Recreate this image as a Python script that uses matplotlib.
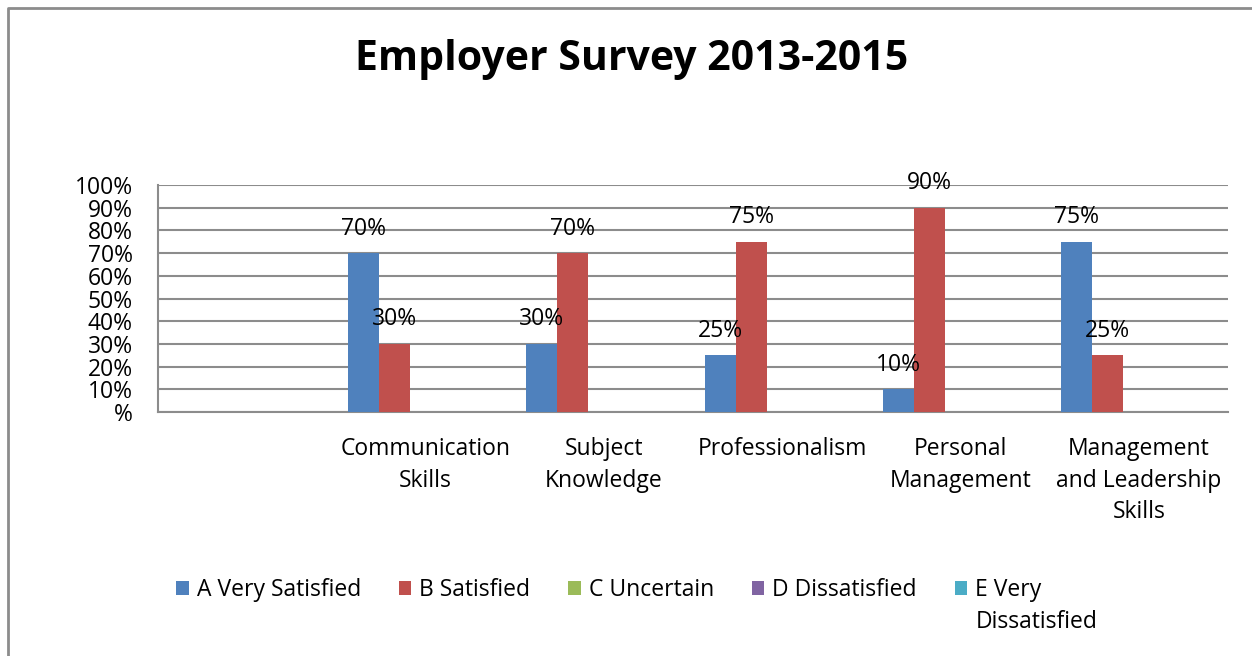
import matplotlib.pyplot as plt
from matplotlib.lines import Line2D
import numpy as np

# Survey data (percent)
categories = ["", "Communication\nSkills", "Subject\nKnowledge", "Professionalism",
              "Personal\nManagement", "Management\nand Leadership\nSkills"]
very_satisfied = [0, 70, 30, 25, 10, 75]
satisfied = [0, 30, 70, 75, 90, 25]
uncertain = [0, 0, 0, 0, 0, 0]
dissatisfied = [0, 0, 0, 0, 0, 0]
very_dissatisfied = [0, 0, 0, 0, 0, 0]

series_names = ["A Very Satisfied", "B Satisfied", "C Uncertain", "D Dissatisfied",
                "E Very Dissatisfied"]
colors = ["#4F81BD", "#C0504D", "#9BBB59", "#8064A2", "#4BACC6"]
y_ticks = [0, 10, 20, 30, 40, 50, 60, 70, 80, 90, 100]
y_ticklabels = ["%"] + [f"{v}%" for v in y_ticks[1:]]

plt.rcParams['font.family'] = ['Open Sans', 'DejaVu Sans']
FS = 16.5

W, H = 1252, 656
fig = plt.figure(figsize=(W / 100, H / 100), dpi=100)
ax = fig.add_axes([158 / W, 1 - 412 / H, (1228 - 158) / W, (412 - 185) / H])

x = np.arange(len(categories))
bw = 0.174
all_series = [very_satisfied, satisfied, uncertain, dissatisfied, very_dissatisfied]
for i, (vals, name, c) in enumerate(zip(all_series, series_names, colors)):
    bars = ax.bar(x + (i - 2) * bw, vals, bw, color=c, label=name, zorder=3,
                  linewidth=0)
    for b, v in zip(bars, vals):
        if v > 0:
            ax.annotate(f"{v}%", (b.get_x() + b.get_width() / 2, v),
                        xytext=(0, 9), textcoords='offset points',
                        ha='center', va='bottom', fontsize=FS, zorder=4)

ax.set_xlim(-0.5, len(categories) - 0.5)
ax.set_ylim(0, 100)
ax.set_yticks(y_ticks)
ax.set_yticklabels(y_ticklabels, fontsize=FS)
ax.set_xticks(x)
ax.set_xticklabels(categories, fontsize=FS, linespacing=1.43, va='top')
ax.tick_params(axis='both', length=0)
ax.tick_params(axis='y', pad=18)
ax.tick_params(axis='x', pad=18)

grid_c = "#8C8C8C"
ax.yaxis.grid(True, color=grid_c, linewidth=1.5, zorder=0)
for s in ['top', 'right']:
    ax.spines[s].set_visible(False)
for s in ['left', 'bottom']:
    ax.spines[s].set_color(grid_c)
    ax.spines[s].set_linewidth(1.5)

fig.suptitle("Employer Survey 2013-2015", fontsize=29.5, fontweight='bold',
             x=632 / W, y=1 - 60 / H, va='center')

# legend: last entry wraps onto a second line under its first word
leg_labels = series_names[:-1] + ["E Very"]
leg = fig.legend(handles=ax.containers, labels=leg_labels, loc='center left',
                 bbox_to_anchor=(176 / W, 1 - 590 / H), ncol=5, frameon=False,
                 fontsize=FS, handlelength=0.55, handleheight=0.55,
                 handletextpad=0.35, columnspacing=1.65, borderaxespad=0,
                 borderpad=0)
fig.canvas.draw()
last = leg.get_texts()[-1].get_window_extent()
fig.text(last.x0 / W, (last.y0 - 8) / H, "Dissatisfied", fontsize=FS,
         ha='left', va='top')

# outer chart frame
fig.add_artist(Line2D([8 / W, 8 / W, 1], [0, 1 - 8 / H, 1 - 8 / H],
                      transform=fig.transFigure, color=grid_c, linewidth=2))

fig.savefig("out.png", dpi=100)
